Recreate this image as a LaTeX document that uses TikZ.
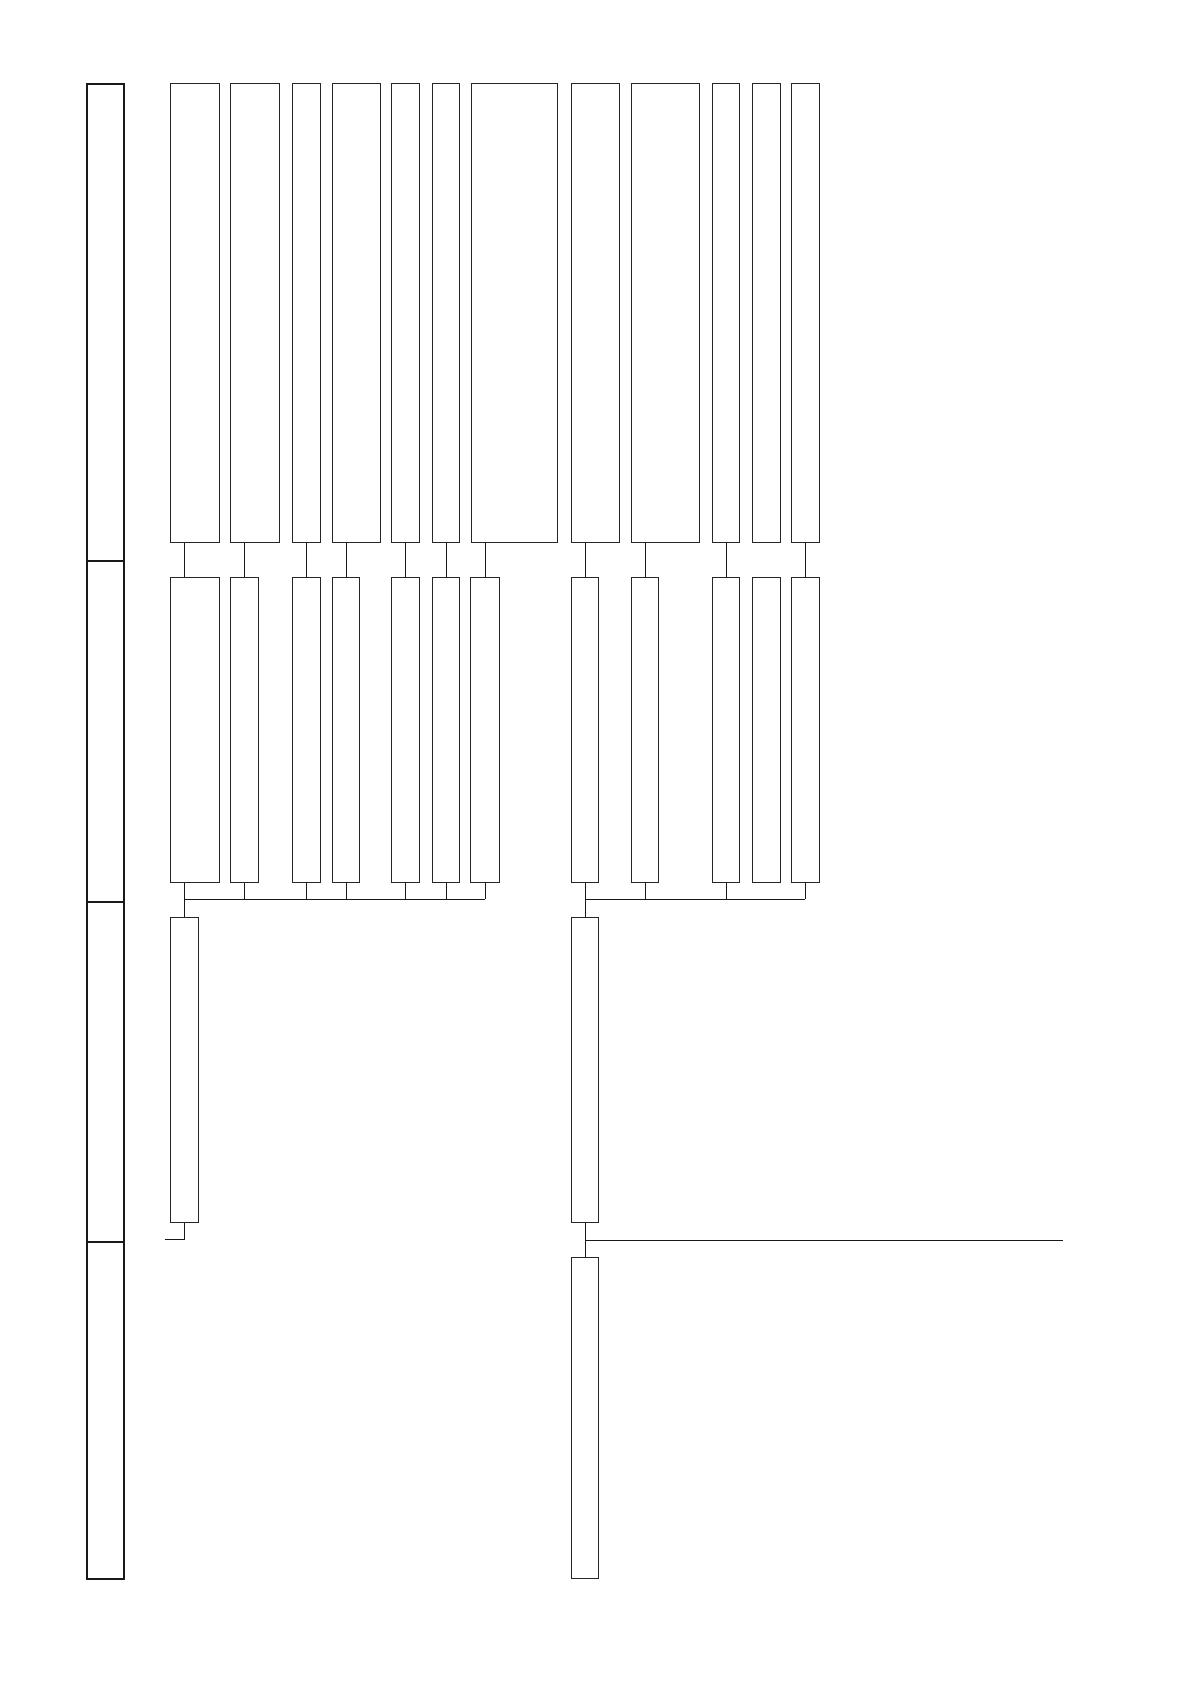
\documentclass[tikz,border=0pt]{standalone}
\usepackage{amsmath}
\usepackage{tikz}
\usetikzlibrary{positioning,calc}

\begin{document}
\begin{tikzpicture}[x=1pt,y=-1pt,
		box/.style={draw=black!85, line width=1pt, fill=white, inner sep=0pt, anchor=north west},
		band/.style={draw=black!90, line width=1.8pt, inner sep=0pt, anchor=north west, minimum width=37.3pt},
		link/.style={draw=black!90, line width=1pt}]
				\useasboundingbox (0,0) rectangle (1190,1682);
				% left column
				\node[band, minimum height=476.7pt] (c1) at (86, 83.3) {};
				\node[band, minimum height=341pt] (c2) at (86, 560) {};
				\node[band, minimum height=339.7pt] (c3) at (86, 901) {};
				\node[band, minimum height=337.6pt] (c4) at (86, 1240.7) {};
				% top row
				\node[box, minimum width=48.7pt, minimum height=458.4pt] (t1) at (170.3, 83.3) {};
				\node[box, minimum width=48.7pt, minimum height=458.4pt] (t2) at (230.3, 83.3) {};
				\node[box, minimum width=27.7pt, minimum height=458.4pt] (t3) at (292.3, 83.3) {};
				\node[box, minimum width=48.6pt, minimum height=458.4pt] (t4) at (331.7, 83.3) {};
				\node[box, minimum width=27.7pt, minimum height=458.4pt] (t5) at (391.3, 83.3) {};
				\node[box, minimum width=27.6pt, minimum height=458.4pt] (t6) at (431.7, 83.3) {};
				\node[box, minimum width=86pt, minimum height=458.4pt] (t7) at (470.7, 83.3) {};
				\node[box, minimum width=48.3pt, minimum height=458.4pt] (t8) at (570.7, 83.3) {};
				\node[box, minimum width=68.3pt, minimum height=458.4pt] (t9) at (630.7, 83.3) {};
				\node[box, minimum width=27.6pt, minimum height=458.4pt] (t10) at (711.7, 83.3) {};
				\node[box, minimum width=27.7pt, minimum height=458.4pt] (t11) at (752.3, 83.3) {};
				\node[box, minimum width=27.7pt, minimum height=458.4pt] (t12) at (791, 83.3) {};
				% middle row
				\node[box, minimum width=48.7pt, minimum height=305pt] (m1) at (170.3, 576.7) {};
				\node[box, minimum width=27.4pt, minimum height=305pt] (m2) at (230.3, 576.7) {};
				\node[box, minimum width=27.7pt, minimum height=305pt] (m3) at (292.3, 576.7) {};
				\node[box, minimum width=27.6pt, minimum height=305pt] (m4) at (331.7, 576.7) {};
				\node[box, minimum width=27.7pt, minimum height=305pt] (m5) at (391.3, 576.7) {};
				\node[box, minimum width=27.6pt, minimum height=305pt] (m6) at (431.7, 576.7) {};
				\node[box, minimum width=28.4pt, minimum height=305pt] (m7) at (470.3, 576.7) {};
				\node[box, minimum width=27.6pt, minimum height=305pt] (m8) at (570.7, 576.7) {};
				\node[box, minimum width=27.6pt, minimum height=305pt] (m9) at (630.7, 576.7) {};
				\node[box, minimum width=27.6pt, minimum height=305pt] (m10) at (711.7, 576.7) {};
				\node[box, minimum width=27.7pt, minimum height=305pt] (m11) at (752.3, 576.7) {};
				\node[box, minimum width=27.7pt, minimum height=305pt] (m12) at (791, 576.7) {};
				% lower boxes
				\node[box, minimum width=27.4pt, minimum height=305pt] (l1) at (170.3, 917.3) {};
				\node[box, minimum width=27.6pt, minimum height=305pt] (r1) at (570.7, 917) {};
				\node[box, minimum width=27.6pt, minimum height=320.7pt] (r2) at (570.7, 1257.3) {};
				\coordinate (busA) at (0, 899.3);
				\coordinate (endA) at (165, 1239.5);
				\coordinate (endB) at (1062.7, 1240.7);
				% top to middle
				\draw[link] (l1.north |- t1.south) -- (l1.north |- m1.north);
				\draw[link] (m2.north |- t2.south) -- (m2.north);
				\draw[link] (m3.north |- t3.south) -- (m3.north);
				\draw[link] (m4.north |- t4.south) -- (m4.north);
				\draw[link] (m5.north |- t5.south) -- (m5.north);
				\draw[link] (m6.north |- t6.south) -- (m6.north);
				\draw[link] (m7.north |- t7.south) -- (m7.north);
				\draw[link] (m8.north |- t8.south) -- (m8.north);
				\draw[link] (m9.north |- t9.south) -- (m9.north);
				\draw[link] (m10.north |- t10.south) -- (m10.north);
				\draw[link] (m12.north |- t12.south) -- (m12.north);
				% left bus
				\draw[link] (l1.north |- m1.south) -- (l1.north);
				\draw[link] (l1.north |- busA) -- (m7.south |- busA);
				\draw[link] (m2.south) -- (m2.south |- busA);
				\draw[link] (m3.south) -- (m3.south |- busA);
				\draw[link] (m4.south) -- (m4.south |- busA);
				\draw[link] (m5.south) -- (m5.south |- busA);
				\draw[link] (m6.south) -- (m6.south |- busA);
				\draw[link] (m7.south) -- (m7.south |- busA);
				\draw[link] (l1.south) |- (endA);
				% right bus
				\draw[link] (m8.south) -- (r1.north);
				\draw[link] (m8.south |- busA) -- (m12.south |- busA);
				\draw[link] (m9.south) -- (m9.south |- busA);
				\draw[link] (m10.south) -- (m10.south |- busA);
				\draw[link] (m12.south) -- (m12.south |- busA);
				\draw[link] (r1.south) -- (r2.north);
				\draw[link] (r1.south |- endB) -- (endB);
				\end{tikzpicture}
\end{document}
